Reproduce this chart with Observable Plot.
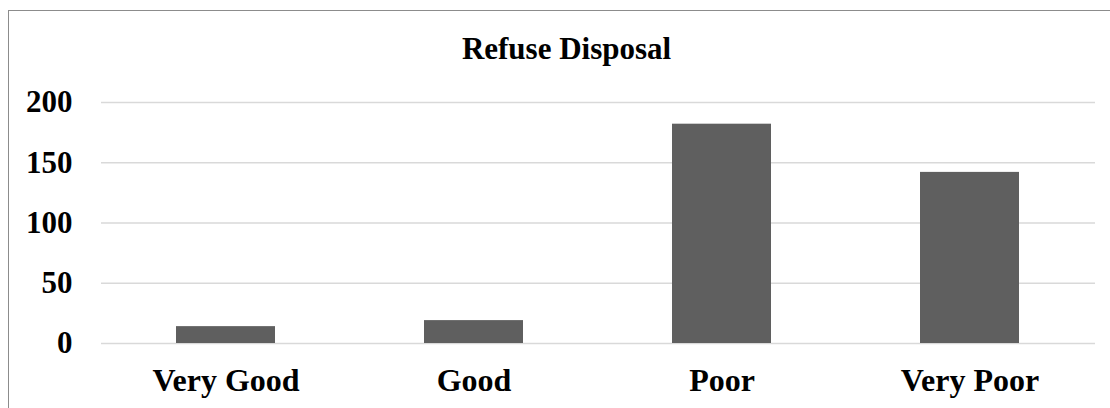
<!DOCTYPE html>
<html>
<head>
<meta charset="utf-8">
<script src="https://cdn.jsdelivr.net/npm/d3@7"></script>
<script src="https://cdn.jsdelivr.net/npm/@observablehq/plot@0.6"></script>
<style>
  html, body { margin: 0; padding: 0; background: #fff; overflow: hidden; }
  #wrap { position: relative; width: 1110px; height: 408px; overflow: hidden; }
  #border { position: absolute; left: 8px; top: 10px; width: 1200px; height: 600px; border: 1.5px solid #8c8c8c; box-sizing: border-box; pointer-events: none; }
  #chart { position: absolute; left: 0; top: 0; }
  svg { font-family: "Liberation Serif", "Times New Roman", serif; }
</style>
</head>
<body>
<div id="wrap"><div id="border"></div><div id="chart"></div></div>
<script>
const title = "Refuse Disposal";
const categories = ["Very Good", "Good", "Poor", "Very Poor"];
const values = [14, 19, 182, 142];
const yTicks = [0, 50, 100, 150, 200];

const data = categories.map((c, i) => ({category: c, value: values[i]}));

const chart = Plot.plot({
  width: 1110,
  height: 408,
  marginLeft: 101,
  marginRight: 15,
  marginTop: 102,
  marginBottom: 65,
  style: {fontFamily: '"Liberation Serif", "Times New Roman", serif', background: "transparent", color: "#000"},
  x: {domain: categories, paddingInner: 0.6, paddingOuter: 0.3, label: null},
  y: {domain: [0, 200], label: null},
  marks: [
    Plot.gridY(yTicks, {stroke: "#d9d9d9", strokeOpacity: 1, strokeWidth: 1.5}),
    Plot.barY(data, {x: "category", y: "value", fill: "#5f5f5f"}),
    Plot.axisY(yTicks, {tickSize: 0, tickPadding: 29, fontSize: 31, fontWeight: "bold", fill: "#000", label: null}),
    Plot.axisX({tickSize: 0, tickPadding: 25, fontSize: 32, fontWeight: "bold", fill: "#000", label: null}),
    Plot.text([title], {frameAnchor: "top", dx: -32, dy: -44, lineAnchor: "bottom", fontSize: 31, fontWeight: "bold", fill: "#000"})
  ]
});
document.getElementById("chart").appendChild(chart);
</script>
</body>
</html>
